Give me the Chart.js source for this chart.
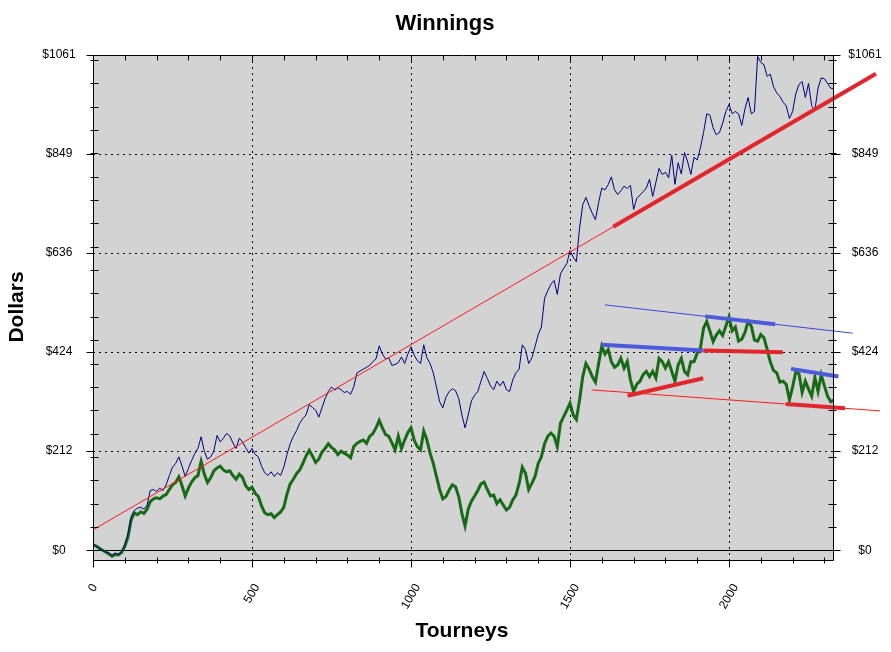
<!DOCTYPE html>
<html>
<head>
<meta charset="utf-8">
<script src="https://cdn.jsdelivr.net/npm/chart.js@4.4.1/dist/chart.umd.min.js"></script>
<style>
html,body{margin:0;padding:0;background:#fff;}
canvas{display:block;}
</style>
</head>
<body>
<canvas id="c" width="891" height="652"></canvas>
<script>
// ---- data ----
const tourneyStep = 10; // one value every 10 tourneys, starting at tourney 0

const winnings = [
  12, 8, 3, 0, -4, -6, -10, -6, -9, -3,
  12, 35, 72, 85, 90, 92, 88, 96, 128, 130,
  126, 133, 128, 140, 160, 178, 186, 200, 180, 158,
  175, 192, 207, 218, 243, 212, 195, 200, 212, 246,
  232, 240, 250, 245, 230, 218, 240, 232, 220, 208,
  218, 205, 200, 180, 166, 160, 168, 158, 166, 160,
  178, 205, 228, 244, 256, 272, 282, 290, 312, 306,
  300, 285, 305, 325, 340, 350, 343, 348, 344, 338,
  340, 334, 350, 380, 384, 388, 392, 396, 404, 410,
  438, 420, 410, 412, 396, 398, 402, 414, 400, 420,
  436, 418, 406, 400, 440, 412, 400, 380, 350, 318,
  305, 328, 340, 346, 342, 325, 290, 262, 290, 320,
  332, 340, 362, 383, 368, 352, 344, 362, 352, 362,
  344, 340, 365, 380, 388, 440, 430, 400, 412, 436,
  462, 478, 540, 556, 570, 578, 548, 592, 604, 614,
  642, 628, 618, 690, 740, 756, 738, 722, 708, 745,
  776, 772, 783, 800, 772, 762, 770, 780, 775, 782,
  730, 754, 761, 768, 776, 795, 758, 788, 818, 805,
  810, 798, 846, 784, 830, 806, 852, 832, 805, 842,
  836, 862, 895, 935, 932, 905, 890, 895, 915, 940,
  955, 935, 940, 935, 910, 945, 970, 935, 940, 1058,
  1045, 1040, 1015, 1020, 993, 980, 972, 960, 952, 925,
  940, 978, 998, 1004, 970, 1000, 952, 943, 990, 1012,
  1010, 1000, 990, 988
];

const adjustedWinnings = [
  12, 9, 4, 0, -4, -8, -13, -9, -10, -5,
  8, 28, 65, 80, 76, 82, 79, 88, 104, 110,
  112, 110, 116, 119, 130, 140, 145, 157, 138, 116,
  133, 146, 155, 160, 190, 163, 145, 155, 170, 176,
  180, 172, 168, 170, 160, 152, 163, 156, 138, 130,
  135, 122, 115, 95, 80, 76, 78, 70, 76, 82,
  92, 120, 142, 152, 164, 172, 186, 202, 214, 202,
  188, 195, 210, 218, 228, 220, 215, 205, 212, 208,
  204, 198, 222, 229, 233, 236, 229, 244, 250, 262,
  278, 262, 248, 244, 230, 215, 244, 218, 236, 252,
  262, 236, 222, 215, 255, 236, 208, 186, 158, 130,
  110, 115, 129, 140, 136, 115, 79, 52, 88, 105,
  116, 128, 142, 146, 130, 116, 118, 100, 108, 97,
  86, 92, 108, 118, 143, 178, 165, 130, 143, 158,
  186, 200, 228, 244, 251, 244, 222, 272, 286, 300,
  315, 290, 280, 322, 372, 400, 388, 372, 360, 400,
  437, 420, 430, 404, 392, 397, 411, 390, 404, 365,
  340, 356, 362, 376, 383, 372, 383, 369, 411, 404,
  390, 404, 383, 362, 397, 411, 383, 376, 404, 404,
  422, 433, 476, 490, 469, 447, 461, 470, 460, 480,
  500, 470, 478, 448, 452, 466, 490, 480, 450, 448,
  462, 455, 430, 403, 385, 380, 360, 362, 355, 322,
  350, 382, 378, 338, 362, 345, 330, 370, 340, 376,
  352, 330, 318, 322
];

// hand-drawn trend lines: [tourney, dollars] end points
const mainTrendThin     = [[0, 43.5], [1636, 693]];
const mainTrendThick    = [[1636, 693], [2462, 1021]];
const upperChannelThin  = [[1610, 525.6], [2389, 465]];
const upperChannelThick = [[1925, 501], [2145, 484]];
const leftResistance    = [[1600, 440], [1918, 428]];
const midSupport        = [[1919, 428], [2169, 424]];
const risingSupport     = [[1681, 331], [1919, 368.5]];
const lowerChannelThin  = [[1568, 343.5], [2475, 298.5]];
const lowerChannelThick = [[2179, 313], [2365, 304]];
const rightResistance   = [[2195, 388.5], [2344, 372]];

const yTickValues = [0, 212.2, 424.4, 636.6, 848.8, 1061];
const yTickLabels = ['$0', '$212', '$424', '$636', '$849', '$1061'];
const yMinorStep = 50;
const xTickValues = [0, 500, 1000, 1500, 2000];
const xTickLabels = ['0', '500', '1000', '1500', '2000'];
const xMinorStep = 100;
const xMax = 2327;
const yMin = -21;
const yMax = 1061;

const chartTitle = 'Winnings';
const xTitle = 'Tourneys';
const yTitle = 'Dollars';

// ---- chart ----
const FONT = "'Liberation Sans', Arial, sans-serif";
const toPts = arr => arr.map(([x, y]) => ({x, y}));
const series = arr => arr.map((v, i) => ({x: i * tourneyStep, y: v}));

function trend(pts, color, width) {
  return {data: toPts(pts), borderColor: color, borderWidth: width, clip: false,
          pointRadius: 0, fill: false, borderCapStyle: 'butt'};
}

const thickRed = '#e3262b', thinRed = '#ff1a1a', thickBlue = '#4b5bdc', thinBlue = '#3a48d8';

const framePlugin = {
  id: 'frame',
  beforeDraw(chart) {
    const {ctx, chartArea: a} = chart;
    ctx.save();
    ctx.fillStyle = '#ffffff';
    ctx.fillRect(0, 0, chart.width, chart.height);
    ctx.fillStyle = '#d3d3d3';
    ctx.fillRect(a.left, a.top, a.right - a.left, a.bottom - a.top);
    ctx.restore();
  },
  beforeDatasetsDraw(chart) {
    const {ctx, chartArea: a, scales: {x, y}} = chart;
    ctx.save();
    ctx.strokeStyle = '#000';
    ctx.lineWidth = 1;
    ctx.setLineDash([2, 4]);
    ctx.beginPath();
    yTickValues.slice(1, -1).forEach(v => {
      const py = Math.round(y.getPixelForValue(v)) + 0.5;
      ctx.moveTo(a.left, py); ctx.lineTo(a.right, py);
    });
    xTickValues.slice(1).forEach(v => {
      const px = Math.round(x.getPixelForValue(v)) + 0.5;
      ctx.moveTo(px, a.top); ctx.lineTo(px, a.bottom);
    });
    ctx.stroke();
    ctx.setLineDash([]);
    // zero line
    const py0 = Math.round(y.getPixelForValue(0)) + 0.5;
    ctx.beginPath();
    ctx.moveTo(a.left, py0); ctx.lineTo(a.right, py0);
    ctx.stroke();
    ctx.restore();
  },
  afterDatasetsDraw(chart) {
    const {ctx, chartArea: a, scales: {x, y}} = chart;
    ctx.save();
    ctx.strokeStyle = '#000';
    ctx.lineWidth = 1;
    ctx.setLineDash([]);
    const L = a.left + 0.5, R = a.right + 0.5, T = a.top + 0.5, B = a.bottom + 0.5;
    ctx.beginPath();
    ctx.rect(L, T, R - L, B - T);
    // y ticks
    yTickValues.forEach(v => {
      const py = Math.round(y.getPixelForValue(v)) + 0.5;
      ctx.moveTo(L - 7, py); ctx.lineTo(L, py);
      ctx.moveTo(R, py); ctx.lineTo(R + 7, py);
    });
    for (let v = yMinorStep; v < yMax; v += yMinorStep) {
      const py = Math.round(y.getPixelForValue(v)) + 0.5;
      ctx.moveTo(L - 3, py); ctx.lineTo(L + 5, py);
      ctx.moveTo(R - 5, py); ctx.lineTo(R + 3, py);
    }
    // x ticks
    for (let v = 0; v <= xMax; v += xMinorStep) {
      const px = Math.round(x.getPixelForValue(v)) + 0.5;
      if (v % 500 === 0) {
        ctx.moveTo(px, B); ctx.lineTo(px, B + 7);
        ctx.moveTo(px, T); ctx.lineTo(px, T + 7);
      } else {
        ctx.moveTo(px, B - 3); ctx.lineTo(px, B + 3);
        ctx.moveTo(px, T); ctx.lineTo(px, T + 5);
      }
    }
    ctx.stroke();

    // tick labels
    ctx.fillStyle = '#000';
    ctx.font = '12px ' + FONT;
    ctx.textAlign = 'center';
    ctx.textBaseline = 'middle';
    yTickValues.forEach((v, i) => {
      const py = y.getPixelForValue(v);
      ctx.fillText(yTickLabels[i], a.left - 34, py);
      ctx.fillText(yTickLabels[i], a.right + 32, py);
    });
    const ang = -60 * Math.PI / 180;
    xTickValues.forEach((v, i) => {
      const px = x.getPixelForValue(v);
      const w = ctx.measureText(xTickLabels[i]).width;
      const cy = a.bottom + 25 + (w / 2) * Math.sin(-ang);
      ctx.save();
      ctx.translate(px, cy);
      ctx.rotate(ang);
      ctx.fillText(xTickLabels[i], 0, 0);
      ctx.restore();
    });

    // titles
    ctx.font = 'bold 22px ' + FONT;
    ctx.fillText(chartTitle, 445, 24);
    ctx.font = 'bold 21px ' + FONT;
    ctx.fillText(xTitle, 462, 631);
    ctx.save();
    ctx.translate(17, 307);
    ctx.rotate(-Math.PI / 2);
    ctx.fillText(yTitle, 0, 0);
    ctx.restore();
    ctx.restore();
  }
};

new Chart(document.getElementById('c'), {
  type: 'line',
  data: {
    datasets: [
      trend(mainTrendThick, thickRed, 4),
      trend(upperChannelThick, thickBlue, 4),
      trend(leftResistance, thickBlue, 4),
      trend(midSupport, thickRed, 4),
      trend(risingSupport, thickRed, 4),
      trend(lowerChannelThick, thickRed, 4),
      trend(rightResistance, thickBlue, 4),
      trend(mainTrendThin, thinRed, 1),
      trend(upperChannelThin, thinBlue, 1),
      trend(lowerChannelThin, thinRed, 1),
      {label: 'Winnings', data: series(winnings), borderColor: '#000080', borderWidth: 1,
       pointRadius: 0, fill: false},
      {label: 'Adjusted', data: series(adjustedWinnings), borderColor: '#176b17', borderWidth: 3,
       pointRadius: 0, fill: false}
    ]
  },
  options: {
    responsive: false,
    animation: false,
    devicePixelRatio: 1,
    layout: {padding: {left: 93, right: 58, top: 55, bottom: 92}},
    plugins: {legend: {display: false}, tooltip: {enabled: false}, title: {display: false}},
    elements: {line: {tension: 0}, point: {radius: 0}},
    scales: {
      x: {type: 'linear', min: 0, max: xMax, display: false},
      y: {type: 'linear', min: yMin, max: yMax, display: false}
    }
  },
  plugins: [framePlugin]
});
</script>
</body>
</html>
